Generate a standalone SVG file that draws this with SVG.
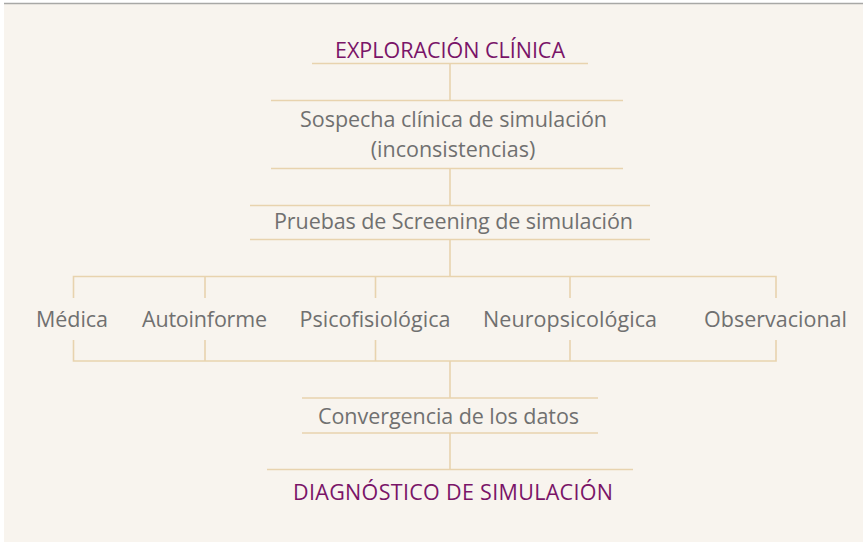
<svg xmlns="http://www.w3.org/2000/svg" width="863" height="543" viewBox="0 0 863 543">
<style>
.ln{stroke:#E8D3AE;stroke-width:1.6;fill:none}
.g{font-family:"Open Sans","Noto Sans",sans-serif;font-size:21.5px;fill:#707070;text-anchor:middle}
.p{font-family:"Open Sans","Noto Sans",sans-serif;font-size:21.5px;fill:#7A1468;text-anchor:middle}
</style>
<rect x="0" y="0" width="863" height="543" fill="#FFFFFF"/>
<rect x="4" y="3" width="859" height="539" fill="#F8F4EE"/>
<line x1="4" y1="3.5" x2="863" y2="3.5" stroke="#A8A8A6" stroke-width="1.5"/>
<g id="connectors">
<line class="ln" x1="312" y1="63.5" x2="588" y2="63.5"/>
<line class="ln" x1="450" y1="63.5" x2="450" y2="100.5"/>
<line class="ln" x1="271" y1="100.5" x2="623" y2="100.5"/>
<line class="ln" x1="271" y1="168.5" x2="623" y2="168.5"/>
<line class="ln" x1="450" y1="168.5" x2="450" y2="205.5"/>
<line class="ln" x1="250" y1="205.5" x2="650" y2="205.5"/>
<line class="ln" x1="250" y1="239.5" x2="650" y2="239.5"/>
<line class="ln" x1="450" y1="239.5" x2="450" y2="276.5"/>
<path class="ln" d="M73.5,298 V276.5 H776 V298 M205,276.5 V298 M375.5,276.5 V298 M570,276.5 V298"/>
<path class="ln" d="M73.5,340 V361 H776 V340 M205,361 V340 M375.5,361 V340 M570,361 V340"/>
<line class="ln" x1="450" y1="361" x2="450" y2="398"/>
<line class="ln" x1="302" y1="398" x2="598" y2="398"/>
<line class="ln" x1="302" y1="433" x2="598" y2="433"/>
<line class="ln" x1="450" y1="433" x2="450" y2="469.5"/>
<line class="ln" x1="267" y1="469.5" x2="633" y2="469.5"/>
</g>
<g id="n1"><text class="p" x="450" y="57.5" textLength="230">EXPLORACIÓN CLÍNICA</text></g>
<g id="n2"><text class="g" x="453.5" y="127" textLength="307">Sospecha clínica de simulación</text><text class="g" x="453" y="157">(inconsistencias)</text></g>
<g id="n3"><text class="g" x="453.5" y="229" textLength="359">Pruebas de Screening de simulación</text></g>
<g id="n4"><text class="g" x="72" y="327" textLength="72">Médica</text></g>
<g id="n5"><text class="g" x="204.5" y="327" textLength="125">Autoinforme</text></g>
<g id="n6"><text class="g" x="375" y="327">Psicofisiológica</text></g>
<g id="n7"><text class="g" x="570" y="327" textLength="174">Neuropsicológica</text></g>
<g id="n8"><text class="g" x="775.5" y="327" textLength="143">Observacional</text></g>
<g id="n9"><text class="g" x="448.5" y="424" textLength="261">Convergencia de los datos</text></g>
<g id="n10"><text class="p" x="453" y="500" textLength="320">DIAGNÓSTICO DE SIMULACIÓN</text></g>
</svg>
